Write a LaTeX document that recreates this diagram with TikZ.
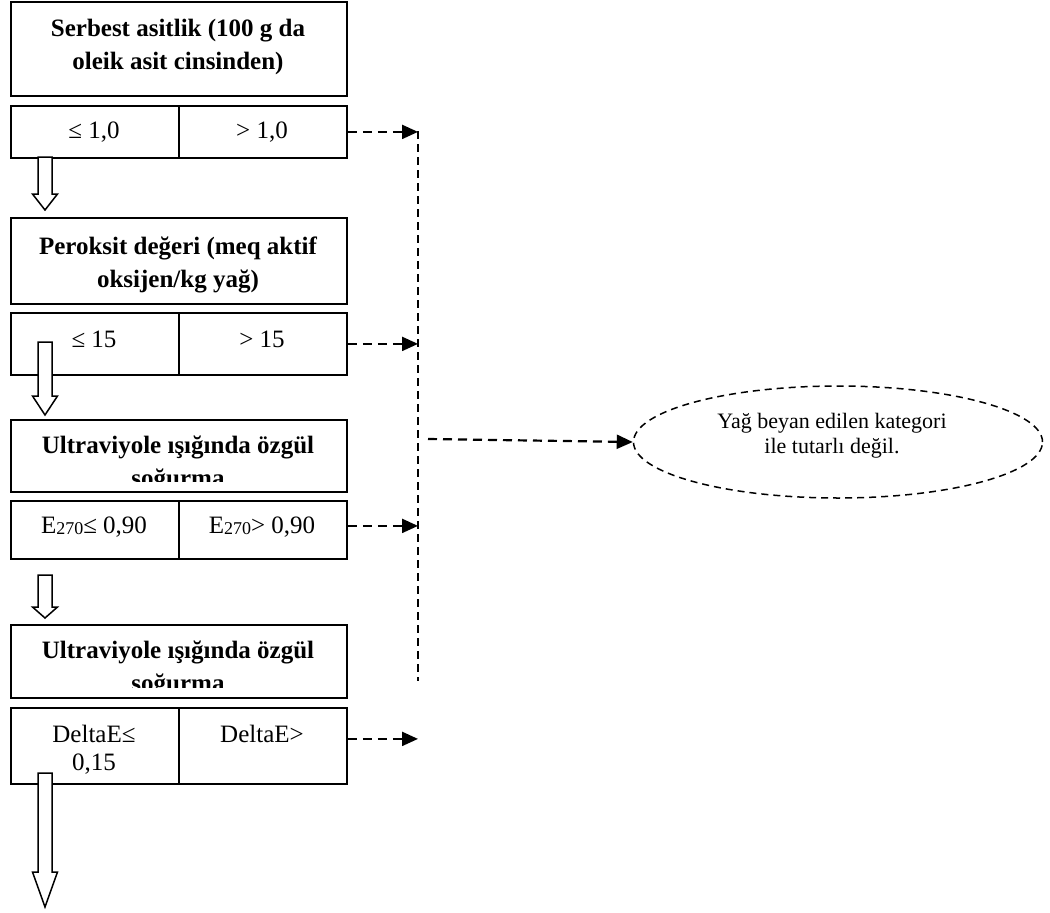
\documentclass[tikz,border=0pt]{standalone}
\usepackage{fontspec}
\setmainfont{Liberation Serif}
\usetikzlibrary{shapes.geometric,arrows.meta,positioning,calc}

% hollow block arrow: start, tip, head length
\newcommand{\blokok}[3]{%
  \draw[blok] ($(#1)+(-7,0)$) -- ($(#2)+(-7,-#3)$) -- ($(#2)+(-12.5,-#3)$) -- (#2)
    -- ($(#2)+(12.5,-#3)$) -- ($(#2)+(7,-#3)$) -- ($(#1)+(7,0)$) -- cycle;}

\begin{document}
\begin{tikzpicture}[
    x=1pt, y=-1pt,
    kutu/.style={rectangle, draw, line width=1.8pt, minimum width=336pt, anchor=north west, inner sep=0pt},
    kalin/.style={font=\bfseries\fontsize{25}{32.5}\selectfont, align=center, anchor=base, inner sep=0pt},
    deger/.style={font=\fontsize{25}{28}\selectfont, align=center, anchor=base, inner sep=0pt},
    blok/.style={draw, fill=white, line width=1.5pt, line join=miter},
    kesik/.style={line width=2.2pt, dash pattern=on 9pt off 6pt, -{Triangle[length=16pt,width=14pt]}},
    hat/.style={line width=1.8pt, dash pattern=on 8pt off 5pt},
    sonuc/.style={ellipse, draw, line width=1.5pt, dash pattern=on 7pt off 5pt, minimum width=409pt, minimum height=112pt, inner sep=0pt}
]
    \useasboundingbox (0,0) rectangle (1050,913);

    % serbest asitlik
    \node[kutu, minimum height=94pt] (asit) at (10,1) {};
    \node[kalin] (asit-yazi) at (178,69) {Serbest asitlik (100 g da\\oleik asit cinsinden)};
    \node[kutu, minimum height=52pt] (asit-sinir) at (10,105) {};
    \draw[line width=1.8pt] (asit-sinir.north) -- (asit-sinir.south);
    \node[deger] (asit-alt) at (94,138) {≤ 1,0};
    \node[deger] (asit-ust) at (262,138) {> 1,0};

    % peroksit
    \node[kutu, minimum height=86pt] (peroksit) at (10,217) {};
    \node[kalin] (peroksit-yazi) at (178,287) {Peroksit değeri (meq aktif\\oksijen/kg yağ)};
    \node[kutu, minimum height=62pt] (peroksit-sinir) at (10,312) {};
    \draw[line width=1.8pt] (peroksit-sinir.north) -- (peroksit-sinir.south);
    \node[deger] (peroksit-alt) at (94,347) {≤ 15};
    \node[deger] (peroksit-ust) at (262,347) {> 15};

    % ultraviyole 1
    \node[kutu, minimum height=72pt] (uv) at (10,419) {};
    \begin{scope}
        \clip (uv.north west) rectangle ([yshift=11pt]uv.south east);
        \node[kalin] (uv-yazi) at (178,486) {Ultraviyole ışığında özgül\\soğurma};
    \end{scope}
    \node[kutu, minimum height=58pt] (uv-sinir) at (10,500) {};
    \draw[line width=1.8pt] (uv-sinir.north) -- (uv-sinir.south);
    \node[deger] (uv-alt) at (94,533) {E\raisebox{-1pt}{\fontsize{18}{18}\selectfont 270}≤ 0,90};
    \node[deger] (uv-ust) at (262,533) {E\raisebox{-1pt}{\fontsize{18}{18}\selectfont 270}> 0,90};

    % ultraviyole 2
    \node[kutu, minimum height=73pt] (delta) at (10,624) {};
    \begin{scope}
        \clip (delta.north west) rectangle ([yshift=11pt]delta.south east);
        \node[kalin] (delta-yazi) at (178,691) {Ultraviyole ışığında özgül\\soğurma};
    \end{scope}
    \node[kutu, minimum height=76pt] (delta-sinir) at (10,707) {};
    \draw[line width=1.8pt] (delta-sinir.north) -- (delta-sinir.south);
    \node[deger] (delta-alt) at (94,770) {DeltaE≤\\0,15};
    \node[deger] (delta-ust) at (262,742) {DeltaE>};

    % blok oklar
    \coordinate (ok1-bas) at (45,157);
    \coordinate (ok1-uc) at (45,210);
    \coordinate (ok2-bas) at (45,342);
    \coordinate (ok2-uc) at (45,415);
    \coordinate (ok3-bas) at (45,575);
    \coordinate (ok3-uc) at (45,618);
    \coordinate (ok4-bas) at (45,773);
    \coordinate (ok4-uc) at (45,907);
    \blokok{ok1-bas}{ok1-uc}{16}
    \blokok{ok2-bas}{ok2-uc}{19}
    \blokok{ok3-bas}{ok3-uc}{11}
    \blokok{ok4-bas}{ok4-uc}{35}

    % kesikli baglantilar
    \coordinate (hat-ust) at (418,131);
    \coordinate (hat-alt) at (418,681);
    \draw[hat] (hat-ust) -- (hat-alt);
    \draw[kesik] (asit-sinir.east) -- (asit-sinir.east -| hat-ust);
    \draw[kesik] (peroksit-sinir.east) -- (peroksit-sinir.east -| hat-ust);
    \draw[kesik] ([yshift=4pt]uv-sinir.east) -- ([yshift=4pt]uv-sinir.east -| hat-ust);
    \draw[kesik] ([yshift=7pt]delta-sinir.east) -- ([yshift=7pt]delta-sinir.east -| hat-ust);

    \node[sonuc] (sonuc) at (838,442) {};
    \node[font=\fontsize{22}{25}\selectfont, align=center, anchor=base, inner sep=0pt] (sonuc-yazi) at (832,453) {Yağ beyan edilen kategori\\ile tutarlı değil.};
    \coordinate (sonuc-bas) at (428,439);
    \draw[kesik] (sonuc-bas) -- (sonuc.west);
\end{tikzpicture}
\end{document}
